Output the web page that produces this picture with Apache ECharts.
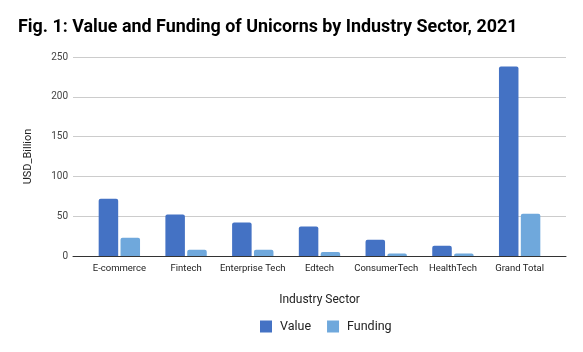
<!DOCTYPE html>
<html>
<head>
<meta charset="utf-8">
<script src="https://cdn.jsdelivr.net/npm/echarts@6/dist/echarts.min.js"></script>
<style>
  html, body { margin: 0; padding: 0; background: #ffffff; }
  #chart { width: 583px; height: 352px; }
</style>
</head>
<body>
<div id="chart"></div>
<script>
// 行业分类
const sectors = ['E-commerce', 'Fintech', 'Enterprise Tech', 'Edtech', 'ConsumerTech', 'HealthTech', 'Grand Total'];
// 估值（十亿美元）
const valueData = [72, 52, 42, 37, 20.5, 13, 238];
// 融资（十亿美元）
const fundingData = [23, 8, 8, 5, 3, 3, 53];
// y轴刻度
const yTicks = [0, 50, 100, 150, 200, 250];

const chart = echarts.init(document.getElementById('chart'), null, { renderer: 'canvas' });

const yMin = yTicks[0];
const yMax = yTicks[yTicks.length - 1];

const option = {
  backgroundColor: '#ffffff',
  textStyle: { fontFamily: 'Roboto' },
  title: {
    text: 'Fig. 1: Value and Funding of Unicorns by Industry Sector, 2021',
    left: 13,
    top: 14,
    textStyle: { fontFamily: 'Roboto', fontSize: 17.9, fontWeight: 'bold', color: '#000000' }
  },
  legend: {
    bottom: 14,
    left: 255,
    itemWidth: 12,
    itemHeight: 12,
    itemGap: 16,
    icon: 'rect',
    textStyle: { fontFamily: 'Roboto', fontSize: 12.5, color: '#222222', padding: [0, 0, 0, 3] },
    data: ['Value', 'Funding']
  },
  // grid 0：网格线和底部轴线（整个宽度）；grid 1：柱子（两边留空）
  grid: [
    { left: 73, right: 17, top: 57, bottom: 96 },
    { left: 86, right: 30, top: 57, bottom: 96 }
  ],
  xAxis: [{
    type: 'category',
    gridIndex: 0,
    data: sectors,
    axisLine: { lineStyle: { color: '#333333', width: 1 } },
    axisTick: { show: false },
    axisLabel: { show: false },
    splitLine: { show: false }
  }, {
    type: 'category',
    gridIndex: 1,
    data: sectors,
    name: 'Industry Sector',
    nameLocation: 'middle',
    nameGap: 38,
    nameTextStyle: { fontFamily: 'Roboto', fontSize: 12, color: '#222222' },
    axisLine: { show: false },
    axisTick: { show: false },
    axisLabel: { interval: 0, fontSize: 9.5, color: '#222222', margin: 8 }
  }],
  yAxis: [{
    type: 'value',
    gridIndex: 0,
    min: yMin,
    max: yMax,
    interval: 50,
    name: 'USD_Billion',
    nameLocation: 'middle',
    nameGap: 39,
    nameTextStyle: { fontFamily: 'Roboto', fontSize: 11, color: '#222222' },
    axisLine: { show: false },
    axisTick: { show: false },
    axisLabel: { fontSize: 10, color: '#444444', margin: 5 },
    splitLine: { lineStyle: { color: '#cccccc', width: 1 } }
  }, {
    type: 'value',
    gridIndex: 1,
    min: yMin,
    max: yMax,
    interval: 50,
    show: false,
    splitLine: { show: false }
  }],
  series: [{
    name: 'Value',
    type: 'bar',
    xAxisIndex: 1,
    yAxisIndex: 1,
    data: valueData,
    itemStyle: { color: '#4472c4', borderRadius: [2, 2, 0, 0] },
    barGap: '12%',
    barCategoryGap: '38%'
  }, {
    name: 'Funding',
    type: 'bar',
    xAxisIndex: 1,
    yAxisIndex: 1,
    data: fundingData,
    itemStyle: { color: '#6fa8dc', borderRadius: [2, 2, 0, 0] }
  }]
};

chart.setOption(option);
</script>
</body>
</html>
